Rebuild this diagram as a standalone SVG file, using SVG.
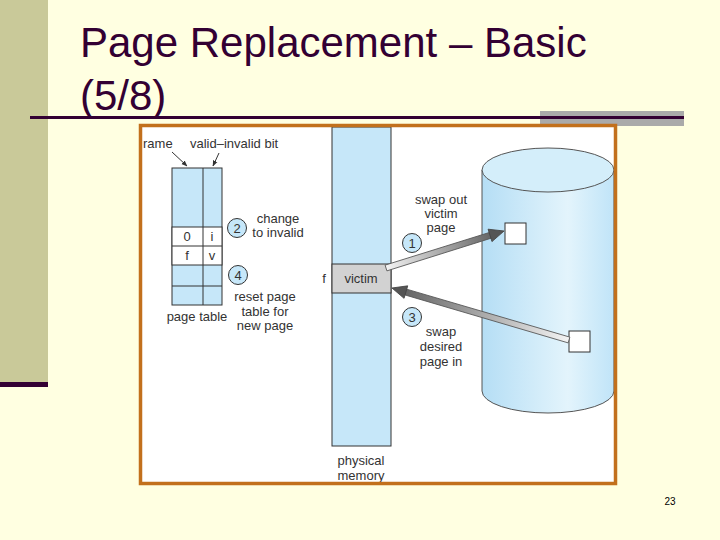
<svg xmlns="http://www.w3.org/2000/svg" width="720" height="540" viewBox="0 0 720 540">
<defs>
<style>
.t{font-family:"Liberation Sans",Arial,sans-serif;font-size:13px;fill:#333}
.m{text-anchor:middle}
.title{font-family:"Liberation Sans",Arial,sans-serif;font-size:42px;fill:#330033}
.cell{fill:#C6E7F9;stroke:#333;stroke-width:1}
.wcell{fill:#fff;stroke:#333;stroke-width:1}
.num{fill:#C6E7F9;stroke:#333;stroke-width:1}
.arr{stroke:#555;stroke-width:0.8}
.head{fill:#555;stroke:#444;stroke-width:0.8}
</style>
<linearGradient id="cyl" x1="0" y1="0" x2="1" y2="0">
<stop offset="0" stop-color="#B5DEF5"/>
<stop offset="0.65" stop-color="#E3F4FC"/>
<stop offset="1" stop-color="#C0E4F8"/>
</linearGradient>
<linearGradient id="ag" x1="0" y1="0" x2="1" y2="0">
<stop offset="0" stop-color="#F4F4F4"/>
<stop offset="1" stop-color="#666"/>
</linearGradient>
<marker id="pt" viewBox="0 0 10 10" refX="9" refY="5" markerWidth="6" markerHeight="6" orient="auto">
<path d="M0,1 L10,5 L0,9 z" fill="#333"/>
</marker>
</defs>
<rect x="0" y="0" width="720" height="540" fill="#FFFFE1"/>
<rect x="0" y="0" width="48" height="382" fill="#C9C999"/>
<rect x="0" y="382" width="48" height="5" fill="#330033"/>
<rect x="540" y="111" width="144" height="15" fill="#AAAAAA"/>
<rect x="30" y="116" width="654" height="3" fill="#330033"/>
<text class="title" x="80" y="57">Page Replacement – Basic</text>
<text class="title" x="80" y="110">(5/8)</text>
<rect x="140.5" y="125.5" width="475" height="358" fill="#fff"/>

<g id="disk">
<path d="M482,170 L482,391 A66,22 0 0 0 614,391 L614,170 Z" fill="url(#cyl)" stroke="#555" stroke-width="1"/>
<ellipse cx="548" cy="170" rx="66" ry="22" fill="#D4EEFA" stroke="#555" stroke-width="1"/>
<rect x="505" y="223" width="21" height="21" fill="#fff" stroke="#333" stroke-width="1"/>
<rect x="569" y="331" width="21" height="21" fill="#fff" stroke="#333" stroke-width="1"/>
</g>

<g id="memory">
<rect x="332" y="127" width="59" height="319" class="cell"/>
<rect x="332" y="264" width="59" height="29" fill="#D2D2D2" stroke="#333" stroke-width="1"/>
<text class="t m" x="361" y="283">victim</text>
<text class="t m" x="324" y="283">f</text>
<text class="t m" x="361" y="465">physical</text>
<text class="t m" x="361" y="480">memory</text>
</g>

<g id="pagetable">
<rect x="172" y="168" width="50" height="137" class="cell"/>
<rect x="172" y="227" width="50" height="38" class="wcell"/>
<line x1="172" y1="246" x2="222" y2="246" stroke="#333"/>
<line x1="172" y1="286" x2="222" y2="286" stroke="#333"/>
<line x1="203" y1="168" x2="203" y2="305" stroke="#333"/>
<text class="t m" x="187" y="241">0</text>
<text class="t m" x="212" y="241">i</text>
<text class="t m" x="187" y="260">f</text>
<text class="t m" x="212" y="260">v</text>
<text class="t m" x="197" y="321">page table</text>
<text class="t" x="143" y="148">rame</text>
<text class="t" x="190" y="148">valid–invalid bit</text>
</g>

<g id="step1">
<circle cx="412" cy="243" r="9.5" class="num"/>
<text class="t m" x="412" y="248">1</text>
<text class="t m" x="441" y="204">swap out</text>
<text class="t m" x="441" y="218">victim</text>
<text class="t m" x="441" y="232">page</text>
</g>
<g id="step2">
<circle cx="237" cy="228" r="9.5" class="num"/>
<text class="t m" x="237" y="233">2</text>
<text class="t m" x="278" y="223">change</text>
<text class="t m" x="278" y="237">to invalid</text>
</g>
<g id="step3">
<circle cx="412" cy="317" r="9.5" class="num"/>
<text class="t m" x="412" y="322">3</text>
<text class="t m" x="441" y="336">swap</text>
<text class="t m" x="441" y="351">desired</text>
<text class="t m" x="441" y="366">page in</text>
</g>
<g id="step4">
<circle cx="238" cy="275" r="9.5" class="num"/>
<text class="t m" x="238" y="280">4</text>
<text class="t m" x="265" y="301">reset page</text>
<text class="t m" x="265" y="316">table for</text>
<text class="t m" x="265" y="330">new page</text>
</g>

<g id="connectors">
<line x1="172" y1="152" x2="187" y2="166" stroke="#333" stroke-width="1" marker-end="url(#pt)"/>
<line x1="219" y1="153" x2="213" y2="166" stroke="#333" stroke-width="1" marker-end="url(#pt)"/>
<g transform="translate(386,268) rotate(-17.4)">
<path d="M0,-3 L110,-3 L110,3 L0,3 Z" fill="url(#ag)" class="arr"/>
<path d="M109,-6.5 L123.7,0 L109,6.5 Z" class="head"/>
</g>
<g transform="translate(569,340) rotate(-163.63)">
<path d="M0,-3 L171,-3 L171,3 L0,3 Z" fill="url(#ag)" class="arr"/>
<path d="M170,-6.5 L184.5,0 L170,6.5 Z" class="head"/>
</g>
</g>

<rect x="140.5" y="125.5" width="475" height="358" fill="none" stroke="#C2701C" stroke-width="3.5"/>
<text x="670" y="505" font-family="'Liberation Sans',Arial,sans-serif" font-size="10" fill="#000" text-anchor="middle">23</text>
</svg>
